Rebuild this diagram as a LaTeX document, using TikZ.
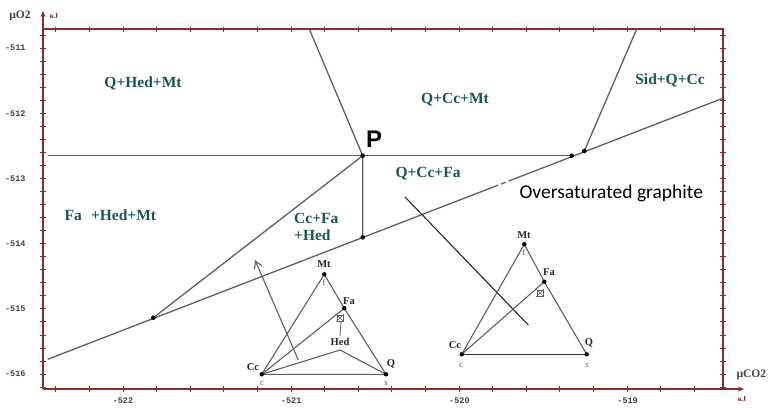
\documentclass[tikz,border=0pt]{standalone}
\usepackage{fontspec}
\setmainfont{Liberation Serif}
\newfontfamily\calfont{Carlito}
\newfontfamily\arialfont{Liberation Sans}
\newfontfamily\ticklblfont{Liberation Mono}
\usetikzlibrary{arrows.meta, calc}
\definecolor{phasecol}{RGB}{25,85,85}
\definecolor{axisred}{RGB}{135,45,45}
\definecolor{linegray}{RGB}{95,95,95}
\definecolor{mincol}{RGB}{45,110,60}

\begin{document}
\begin{tikzpicture}[x=1pt, y=-1pt,
  axis/.style={draw=axisred, line width=1.1pt},
  axarr/.style={axis, -{Stealth[length=6pt, width=5pt]}},
  tck/.style={draw=axisred, line width=0.7pt},
  ticklbl/.style={font=\ticklblfont\fontsize{8.5}{9}\selectfont\bfseries, text=black!75},
  bound/.style={draw=linegray, line width=1.3pt},
  phase/.style={font=\fontsize{15.5}{17}\selectfont\bfseries, text=phasecol, align=left},
  vlbl/.style={font=\fontsize{10.5}{11}\selectfont\bfseries, text=black!85, inner sep=0pt},
  clbl/.style={font=\fontsize{8.5}{9}\selectfont, text=mincol, inner sep=0pt},
  dot/.style={fill=black},
  tri/.style={draw=linegray, line width=1.1pt},
]
\useasboundingbox (0,0) rectangle (770,407);

% === Axes ===
\coordinate (org) at (43,389);
\coordinate (ytip) at (43,11);
\coordinate (xtip) at (744,389);
\coordinate (tl) at (43,29);
\coordinate (tr) at (723,29);
\coordinate (br) at (723,389);

\draw[axarr] (org) -- (ytip);
\draw[axarr] (org) -- (xtip);
\draw[axis] (tl) -- (tr) -- (br);

\foreach \k in {-1,...,26} {
  \draw[tck] (40,48+13.04*\k) -- (46,48+13.04*\k);
  \draw[tck] (720,48+13.04*\k) -- (726,48+13.04*\k);
}
\foreach \k in {-2,...,17} {
  \draw[tck] (123+33.6*\k,386) -- (123+33.6*\k,392);
  \draw[tck] (123+33.6*\k,26.5) -- (123+33.6*\k,31.5);
}
\foreach \v [count=\i from 0] in {511,512,513,514,515,516}
  \node[ticklbl, anchor=east] (yl\v) at (29,48+65.2*\i) {-\v};
\foreach \v [count=\i from 0] in {522,521,520,519}
  \node[ticklbl] (xl\v) at (123+168.2*\i,401) {-\v};

\node[font=\fontsize{11.5}{12}\selectfont\bfseries, text=black!75] (ylab) at (20,16) {µO2};
\node[font=\fontsize{7.5}{8}\selectfont\bfseries, text=axisred!80!black] (yunit) at (54,16) {кJ};
\node[font=\fontsize{11.5}{12}\selectfont\bfseries, text=black!75, anchor=west] (xlab) at (733,375) {µCO2};
\node[font=\fontsize{7.5}{8}\selectfont\bfseries, text=axisred!80!black] (xunit) at (742,399) {кJ};

% === Phase boundaries ===
\coordinate (P) at (362.7,155.7);
\coordinate (hstart) at (47.7,155.7);
\coordinate (d1) at (571.7,155.7);
\coordinate (d2) at (584.3,151);
\coordinate (ptop) at (309.3,29);
\coordinate (d2top) at (636.7,29);
\coordinate (pbot) at (362.7,237.3);
\coordinate (d3) at (153.3,317.7);
\coordinate (g0) at (47.7,359.3);
\coordinate (g1) at (722.7,98.3);

\draw[bound] (hstart) -- (d1);
\draw[bound] (ptop) -- (P) -- (pbot);
\draw[bound] (P) -- (d3);
\draw[bound] (d2) -- (d2top);
\draw[bound] (g0) -- ($(g0)!0.655!(g1)$);
\draw[bound, dash pattern=on 9pt off 3pt on 5pt off 3pt] ($(g0)!0.655!(g1)$) -- ($(g0)!0.694!(g1)$);
\draw[bound] ($(g0)!0.694!(g1)$) -- (g1);

\foreach \pt in {P,d1,d2,pbot,d3}
  \fill[dot] (\pt) circle (2.3);

\coordinate (cutA) at (405,197);
\coordinate (cutB) at (528.3,325);
\draw[line width=1.1pt, black!85] (cutA) -- (cutB);

% === Labels ===
\node[phase] (qhedmt) at (143,83) {Q+Hed+Mt};
\node[phase] (qccmt) at (455,100) {Q+Cc+Mt};
\node[phase] (sidqcc) at (670,80) {Sid+Q+Cc};
\node[phase] (qccfa) at (428,174) {Q+Cc+Fa};
\node[phase, anchor=west] (fahedmt) at (61,215) {Fa\hspace{0.6em}+Hed+Mt};
\node[phase, anchor=west, inner sep=0pt] (ccfahed) at (294,227) {Cc+Fa\\+Hed};
\node[font=\arialfont\fontsize{24}{26}\selectfont\bfseries] (plbl) at (374,139) {P};
\node[font=\calfont\fontsize{19.5}{21}\selectfont, anchor=west] (graph) at (516,193) {Oversaturated graphite};

% === Left triangle ===
\coordinate (cc1) at (261.7,374.3);
\coordinate (q1) at (386,374.3);
\coordinate (mt1) at (324.3,274.3);
\coordinate (fa1) at (344.3,308.3);
\coordinate (hed1) at (340,350);
\coordinate (mk1) at (340,318);

\draw[tri] (cc1) -- (q1) -- (fa1) -- (mt1) -- (cc1);
\draw[tri] (cc1) -- (fa1);
\draw[tri] (cc1) -- (hed1) -- (q1);
\draw[tri, line width=0.8pt] (341,322) -- (340,336);
\draw[tri, line width=0.7pt] ($(mk1)+(-3,-3)$) rectangle ($(mk1)+(3,3)$);
\draw[tri, line width=0.5pt] ($(mk1)+(-4,-4)$) -- ($(mk1)+(4,4)$) ($(mk1)+(-4,4)$) -- ($(mk1)+(4,-4)$);
\coordinate (arrA) at (298.3,360);
\coordinate (arrB) at (255,260);
\draw[tri, -{Straight Barb[length=7pt, width=8pt]}] (arrA) -- (arrB);
\foreach \pt in {cc1,q1,mt1,fa1}
  \fill[dot] (\pt) circle (2.2);

\node[vlbl] (mtl1) at (324,264) {Mt};
\node[clbl] (mtc1) at (324,283) {f};
\node[vlbl] (fal1) at (349,301) {Fa};
\node[vlbl] (hedl1) at (340,342) {Hed};
\node[vlbl] (ccl1) at (253,367) {Cc};
\node[clbl] (ccc1) at (262,384) {c};
\node[vlbl] (ql1) at (391,364) {Q};
\node[clbl] (qc1) at (386,384) {s};

% === Right triangle ===
\coordinate (cc2) at (461.7,354.3);
\coordinate (q2) at (586.7,354.3);
\coordinate (mt2) at (524.3,244.3);
\coordinate (fa2) at (544.3,281.7);
\coordinate (mk2) at (540,293);

\draw[tri, line width=1.4pt, black!80] (cc2) -- (q2);
\draw[tri] (q2) -- (fa2) -- (mt2) -- (cc2);
\draw[tri] (cc2) -- (fa2);
\draw[tri, line width=0.7pt] ($(mk2)+(-3,-3)$) rectangle ($(mk2)+(3,3)$);
\draw[tri, line width=0.5pt] ($(mk2)+(-4,-4)$) -- ($(mk2)+(4,4)$) ($(mk2)+(-4,4)$) -- ($(mk2)+(4,-4)$);
\foreach \pt in {cc2,q2,mt2,fa2}
  \fill[dot] (\pt) circle (2.2);

\node[vlbl] (mtl2) at (524,235) {Mt};
\node[clbl] (mtc2) at (524,253) {f};
\node[vlbl] (fal2) at (549,272) {Fa};
\node[vlbl] (ccl2) at (455,345) {Cc};
\node[clbl] (ccc2) at (461,366) {c};
\node[vlbl] (ql2) at (589,343) {Q};
\node[clbl] (qc2) at (587,366) {s};

\end{tikzpicture}
\end{document}
